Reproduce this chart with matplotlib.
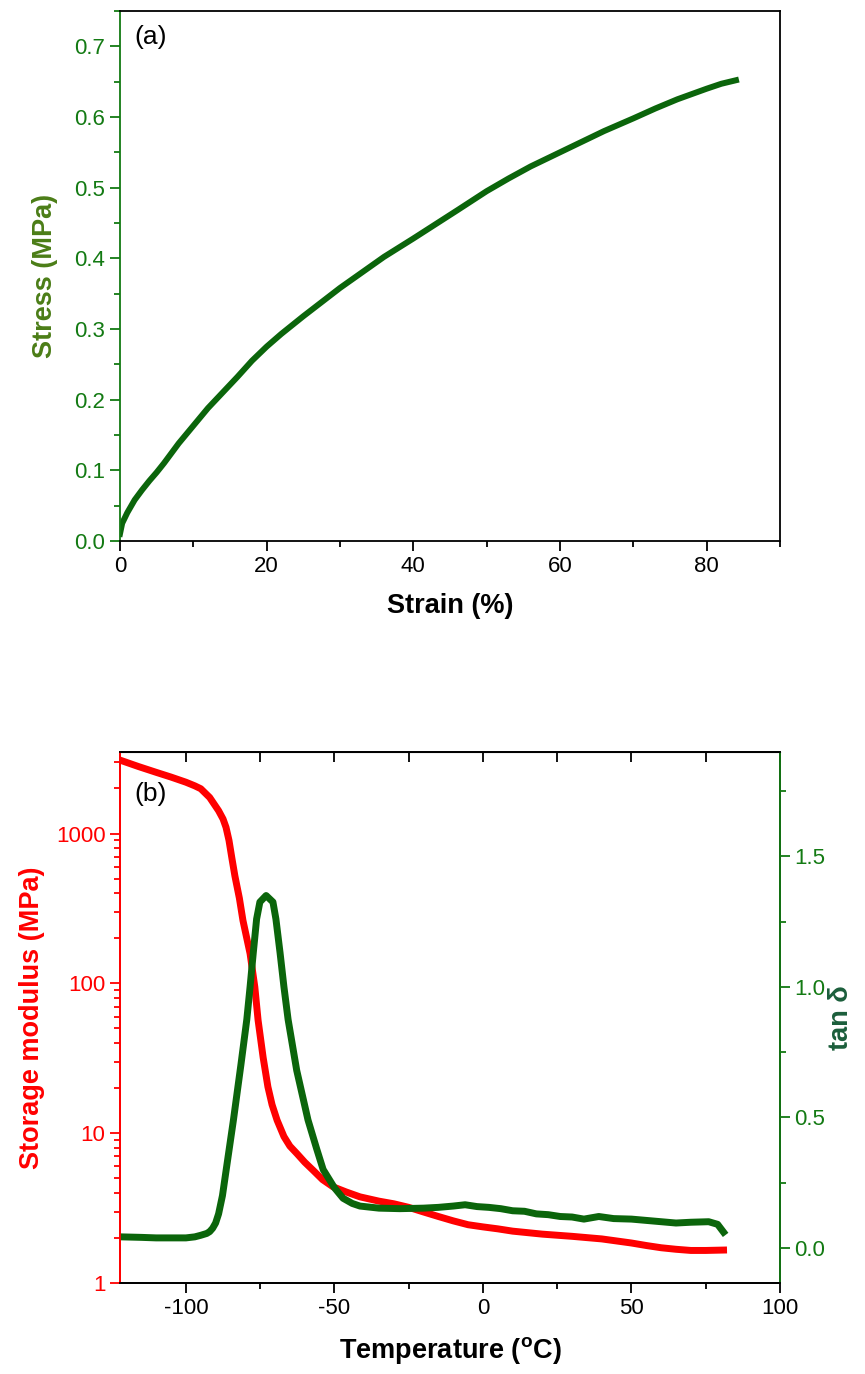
import matplotlib
matplotlib.use("Agg")
import matplotlib.pyplot as plt
import numpy as np
from matplotlib.ticker import MultipleLocator, LogLocator, NullFormatter, FixedLocator

plt.rcParams['font.family'] = ['Liberation Sans', 'DejaVu Sans']
plt.rcParams['axes.unicode_minus'] = False

# (a) tensile curve
strain = [0, 0.3, 1, 2, 3, 4, 5, 6, 8, 10, 12, 14, 16, 18, 20, 22, 25, 28, 30, 33, 36, 40,
          43, 46, 50, 53, 56, 60, 63, 66, 70, 73, 76, 80, 82, 84]
stress = [0.01, 0.025, 0.04, 0.058, 0.072, 0.085, 0.097, 0.11, 0.138, 0.163, 0.188, 0.21,
          0.232, 0.255, 0.275, 0.293, 0.318, 0.342, 0.358, 0.38, 0.402, 0.428, 0.448, 0.468,
          0.495, 0.513, 0.53, 0.55, 0.565, 0.58, 0.598, 0.612, 0.625, 0.64, 0.647, 0.652]

# (b) DMA: storage modulus
temp_E = [-122, -116, -110, -105, -100, -97, -95, -92, -89, -87.5, -86.5, -85.5, -84.5, -83.5,
          -82, -80.8, -78.4, -76.8, -75.7, -74, -72.4, -71, -69.3, -67, -65, -62.6, -60, -57.2,
          -54, -50.5, -46, -41.4, -35, -30, -25, -20, -15, -10, -5, 0, 5, 10, 20, 30, 40, 50,
          55, 60, 65, 70, 75, 81]
modulus = [3080, 2800, 2560, 2380, 2200, 2080, 1990, 1740, 1420, 1250, 1100, 900, 680, 520,
           370, 263, 158, 94.5, 56.7, 32, 20.4, 15.5, 12.2, 9.5, 8.2, 7.3, 6.4, 5.66,
           4.9, 4.39, 4.05, 3.76, 3.52, 3.38, 3.2, 2.98, 2.78, 2.6, 2.45, 2.37, 2.3, 2.22,
           2.12, 2.05, 1.97, 1.85, 1.78, 1.72, 1.68, 1.65, 1.65, 1.66]

# (b) DMA: tan delta
temp_tan = [-122, -115, -110, -105, -100, -97, -95, -93, -92, -91, -90, -89, -87.7, -86.3,
            -84, -81.5, -79.5, -78.4, -77.3, -76.2, -75.1, -73, -70.7, -69.7, -68.3, -67,
            -65.6, -62.7, -58.9, -56, -53.8, -50, -47.1, -44, -41.4, -35, -28, -20, -15, -10,
            -6, -2, 2, 6, 10, 14, 18, 22, 26, 30, 34, 39, 44, 50, 55, 60, 65, 70, 76, 79, 81]
tan_d = [0.042, 0.04, 0.038, 0.038, 0.038, 0.042, 0.048, 0.055, 0.062, 0.075, 0.095, 0.13,
         0.2, 0.31, 0.49, 0.7, 0.875, 1.0, 1.133, 1.26, 1.325, 1.35, 1.325, 1.26, 1.13, 1.0,
         0.875, 0.68, 0.49, 0.38, 0.3, 0.23, 0.19, 0.17, 0.16, 0.152, 0.15, 0.152, 0.155,
         0.16, 0.165, 0.158, 0.155, 0.15, 0.142, 0.14, 0.13, 0.127, 0.12, 0.118, 0.11, 0.12,
         0.112, 0.11, 0.105, 0.1, 0.095, 0.098, 0.1, 0.09, 0.06]

dark_green = '#0b650b'
tick_green = '#137a13'

fig = plt.figure(figsize=(8.65, 13.74), dpi=100)

# ---- panel (a)
ax = fig.add_axes([0.1387, 0.6063, 0.763, 0.3857])
ax.plot(strain, stress, color=dark_green, lw=4.3)
ax.set_xlim(0, 90)
ax.set_ylim(0, 0.75)
ax.xaxis.set_major_locator(MultipleLocator(20))
ax.xaxis.set_minor_locator(MultipleLocator(10))
ax.yaxis.set_major_locator(MultipleLocator(0.1))
ax.yaxis.set_minor_locator(MultipleLocator(0.05))
ax.yaxis.set_major_formatter(matplotlib.ticker.FormatStrFormatter('%.1f'))
ax.tick_params(which='both', direction='out', labelsize=16, width=1.3)
ax.tick_params(which='major', length=7)
ax.tick_params(which='minor', length=4)
ax.tick_params(axis='y', which='both', colors=tick_green)
ax.spines['left'].set_color(tick_green)
for s in ax.spines.values():
    s.set_linewidth(1.3)
ax.set_xlabel('Strain (%)', fontsize=19.5, fontweight='bold', labelpad=12)
ax.set_ylabel('Stress (MPa)', fontsize=19.5, fontweight='bold', color='#4b7d17', labelpad=12)
ax.text(0.022, 0.95, '(a)', transform=ax.transAxes, fontsize=19, va='center')

# ---- panel (b)
bx = fig.add_axes([0.1387, 0.0662, 0.763, 0.3865])
bx.plot(temp_E, modulus, color='#ff0000', lw=5)
bx.set_yscale('log')
bx.set_xlim(-122.2, 100)
bx.set_ylim(1, 3500)
bx.xaxis.set_major_locator(MultipleLocator(50))
bx.xaxis.set_minor_locator(MultipleLocator(25))
bx.yaxis.set_major_locator(FixedLocator([1, 10, 100, 1000]))
bx.yaxis.set_major_formatter(matplotlib.ticker.FuncFormatter(lambda v, p: '%d' % v))
bx.yaxis.set_minor_locator(LogLocator(base=10, subs=np.arange(2, 10)))
bx.yaxis.set_minor_formatter(NullFormatter())
bx.tick_params(which='both', direction='out', labelsize=16, width=1.3)
bx.tick_params(which='major', length=7)
bx.tick_params(which='minor', length=4)
bx.tick_params(axis='y', which='both', colors='#ff0000')
bx.spines['left'].set_color('#ff0000')
for s in bx.spines.values():
    s.set_linewidth(1.3)
bx.set_xlabel('Temperature ($\\mathregular{^o}$C)', fontsize=19.5, fontweight='bold', labelpad=12)
bx.set_ylabel('Storage modulus (MPa)', fontsize=19.5, fontweight='bold', color='#ff0000', labelpad=8)
bx.text(0.022, 0.92, '(b)', transform=bx.transAxes, fontsize=19, va='center')

top = bx.secondary_xaxis('top')
top.xaxis.set_major_locator(MultipleLocator(25))
top.tick_params(direction='in', length=7, width=1.3, labeltop=False)

bx2 = bx.twinx()
bx2.plot(temp_tan, tan_d, color=dark_green, lw=5)
bx2.set_ylim(-0.135, 1.9)
bx2.yaxis.set_major_locator(MultipleLocator(0.5))
bx2.yaxis.set_minor_locator(MultipleLocator(0.25))
bx2.yaxis.set_major_formatter(matplotlib.ticker.FormatStrFormatter('%.1f'))
bx2.tick_params(which='both', direction='out', labelsize=16, width=1.3, colors=tick_green)
bx2.tick_params(which='major', length=7)
bx2.tick_params(which='minor', length=4)
bx2.spines['right'].set_color(tick_green)
bx2.spines['left'].set_color('#ff0000')
for s in bx2.spines.values():
    s.set_linewidth(1.3)
bx2.set_ylabel('tan δ', fontsize=19.5, fontweight='bold', color='#1b5e3b', labelpad=2)

fig.savefig('out.png', dpi=100)
